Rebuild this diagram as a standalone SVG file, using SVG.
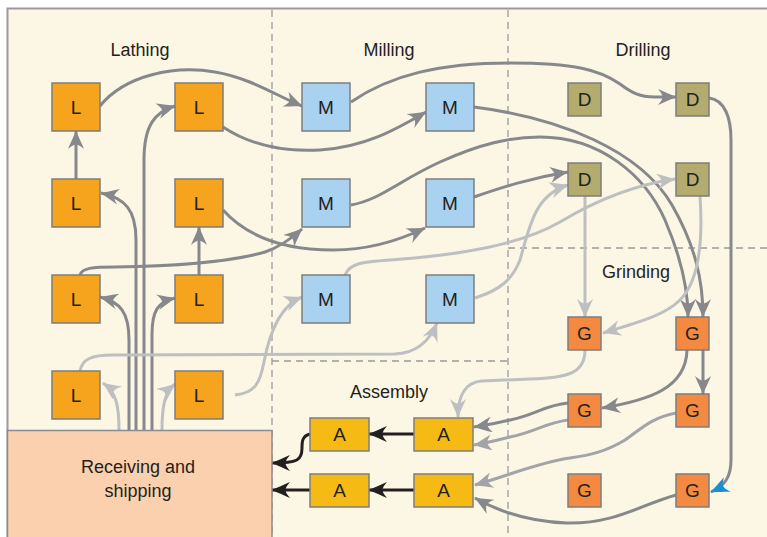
<svg xmlns="http://www.w3.org/2000/svg" width="767" height="537" viewBox="0 0 767 537">
  <style>
    .lbl { font-family: "Liberation Sans", Arial, sans-serif; font-size: 18px; fill: #231F20; text-anchor: middle; }
    .nt { font-family: "Liberation Sans", Arial, sans-serif; font-size: 19px; fill: #231F20; text-anchor: middle; dominant-baseline: central; }
    .node { stroke: #7D7D7D; stroke-width: 1.5; }
    .L { fill: #F6A31E; }
    .M { fill: #A9D1F0; }
    .D { fill: #B4AB6E; }
    .G { fill: #F48A41; }
    .A { fill: #F6BA14; }
    .zone { stroke: #9A9A9A; stroke-width: 1.3; stroke-dasharray: 7 5; fill: none; }
    .dk { fill: none; stroke: #87888B; stroke-width: 3; marker-end: url(#arDk); }
    .md { fill: none; stroke: #A2A4A7; stroke-width: 3; marker-end: url(#arMd); }
    .lt { fill: none; stroke: #BDBFC1; stroke-width: 3; marker-end: url(#arLt); }
    .bk { fill: none; stroke: #231F20; stroke-width: 3; marker-end: url(#arBk); }
    .bl { fill: none; stroke: #87888B; stroke-width: 3; marker-end: url(#arBl); }
  </style>
  <defs>
    <path id="barb" d="M19,8 C13,6 6,2.5 0,0 C3,3.5 4.5,6 4.5,8 C4.5,10 3,12.5 0,16 C6,13.5 13,10 19,8 z"/>
    <marker id="arDk" markerUnits="userSpaceOnUse" markerWidth="20" markerHeight="16" refX="18" refY="8" orient="auto"><use href="#barb" fill="#87888B"/></marker>
    <marker id="arMd" markerUnits="userSpaceOnUse" markerWidth="20" markerHeight="16" refX="18" refY="8" orient="auto"><use href="#barb" fill="#A2A4A7"/></marker>
    <marker id="arLt" markerUnits="userSpaceOnUse" markerWidth="20" markerHeight="16" refX="18" refY="8" orient="auto"><use href="#barb" fill="#BDBFC1"/></marker>
    <marker id="arBk" markerUnits="userSpaceOnUse" markerWidth="20" markerHeight="16" refX="18" refY="8" orient="auto"><use href="#barb" fill="#231F20"/></marker>
    <marker id="arBl" markerUnits="userSpaceOnUse" markerWidth="20" markerHeight="16" refX="18" refY="8" orient="auto"><use href="#barb" fill="#1B8FD2"/></marker>
  </defs>

  <!-- plant floor -->
  <rect x="0" y="0" width="767" height="537" fill="#FFFFFF"/>
  <rect x="7.5" y="8.5" width="770" height="540" fill="#FCF6E5" stroke="#9A9A9A" stroke-width="2"/>

  <!-- department boundaries -->
  <g id="zones">
    <line class="zone" x1="272" y1="10" x2="272" y2="537"/>
    <line class="zone" x1="508" y1="10" x2="508" y2="537"/>
    <line class="zone" x1="508" y1="248" x2="767" y2="248"/>
    <line class="zone" x1="272" y1="361" x2="508" y2="361"/>
  </g>

  <!-- department titles -->
  <g id="titles">
    <text class="lbl" x="140" y="56">Lathing</text>
    <text class="lbl" x="389" y="56">Milling</text>
    <text class="lbl" x="643" y="56">Drilling</text>
    <text class="lbl" x="636" y="278">Grinding</text>
    <text class="lbl" x="389" y="398">Assembly</text>
  </g>

  <!-- material flows -->
  <g id="connectors">
    <!-- lathing -->
    <path class="dk" d="M76,179 V131"/>
    <path class="dk" d="M199,275 V227"/>
    <path class="dk" d="M144,430 V160 C144,125 155,112 175,106"/>
    <path class="dk" d="M136,430 V240 C136,210 125,198 101,193"/>
    <path class="dk" d="M129,430 V340 C129,312 120,302 100,297"/>
    <path class="dk" d="M152,430 V335 C152,310 158,302 175,298"/>
    <path class="lt" d="M119,430 C119,405 116,392 103,383"/>
    <path class="lt" d="M162,430 C162,405 165,392 175,384"/>
    <!-- lathing to milling -->
    <path class="dk" d="M100,106 C125,75 175,65 215,72 C250,78 275,95 302,106"/>
    <path class="dk" d="M223,127 C250,145 285,152 320,150 C365,147 395,130 426,112"/>
    <path class="dk" d="M223,210 C250,240 290,250 333,250 C370,250 400,240 425,228"/>
    <path class="dk" d="M80,275 C82,268 92,267 115,267 C180,266 230,262 265,252 C280,247 292,238 302,229"/>
    <path class="lt" d="M80,371 C82,359 92,355 112,355 L395,354 C418,353 430,340 437,323"/>
    <path class="lt" d="M235,395 C255,393 260,383 264,362 C270,330 282,305 302,297"/>
    <!-- milling onward -->
    <path class="dk" d="M351,102 C390,75 440,63 510,63 C575,63 600,70 620,84 C632,93 640,97 655,97 L676,97"/>
    <path class="dk" d="M474,107 C560,118 640,150 672,205 C695,245 703,280 703,317"/>
    <path class="dk" d="M351,205 C380,200 400,180 440,162 C480,144 510,137 540,137 C600,137 645,175 665,220 C680,255 688,285 688,317"/>
    <path class="dk" d="M474,197 C500,188 530,178 568,172"/>
    <path class="lt" d="M345,275 C350,263 362,262 390,260 C460,255 520,245 560,222 C600,198 640,184 675,179"/>
    <path class="lt" d="M475,298 C500,290 512,280 520,260 C530,225 535,195 568,185"/>
    <!-- drilling to grinding -->
    <path class="bl" d="M709,98 C725,100 731,118 731,140 L731,460 C731,478 724,486 711,492"/>
    <path class="lt" d="M585,196 V317"/>
    <path class="lt" d="M700,196 C703,240 700,280 680,300 C665,315 640,322 603,333"/>
    <!-- grinding -->
    <path class="dk" d="M703,350 V394"/>
    <path class="dk" d="M687,350 C686,388 650,400 602,408"/>
    <!-- grinding to assembly -->
    <path class="lt" d="M585,350 C585,372 570,378 530,379 L482,381 C466,382 458,395 458,417"/>
    <path class="dk" d="M568,403 C545,405 535,415 510,420 C498,423 488,425 474,427"/>
    <path class="md" d="M568,420 C545,423 535,432 510,437 C498,440 488,443 474,445"/>
    <path class="md" d="M676,413 C650,418 640,430 625,440 C605,452 590,455 570,458 C540,462 510,475 475,485"/>
    <path class="dk" d="M676,495 C640,505 615,524 567,523 C530,522 500,512 475,498"/>
    <!-- assembly -->
    <path class="bk" d="M414,434 H369"/>
    <path class="bk" d="M414,490 H369"/>
    <path class="bk" d="M310,434 C302,436 302,442 302,448 C302,460 298,463 272,463"/>
    <path class="bk" d="M310,490 H272"/>
  </g>

  <!-- receiving and shipping dock -->
  <g id="receiving">
    <rect x="7.5" y="430.5" width="264.5" height="110" fill="#FBD0AE" stroke="#8C8C8C" stroke-width="1.5"/>
    <text class="lbl" x="138" y="473">Receiving and</text>
    <text class="lbl" x="138" y="497">shipping</text>
  </g>

  <!-- lathes -->
  <g id="L1"><rect class="node L" x="52" y="83" width="48" height="48"/><text class="nt" x="76" y="107">L</text></g>
  <g id="L2"><rect class="node L" x="175" y="83" width="48" height="48"/><text class="nt" x="199" y="107">L</text></g>
  <g id="L3"><rect class="node L" x="52" y="179" width="48" height="48"/><text class="nt" x="76" y="203">L</text></g>
  <g id="L4"><rect class="node L" x="175" y="179" width="48" height="48"/><text class="nt" x="199" y="203">L</text></g>
  <g id="L5"><rect class="node L" x="52" y="275" width="48" height="48"/><text class="nt" x="76" y="299">L</text></g>
  <g id="L6"><rect class="node L" x="175" y="275" width="48" height="48"/><text class="nt" x="199" y="299">L</text></g>
  <g id="L7"><rect class="node L" x="52" y="371" width="48" height="48"/><text class="nt" x="76" y="395">L</text></g>
  <g id="L8"><rect class="node L" x="175" y="371" width="48" height="48"/><text class="nt" x="199" y="395">L</text></g>

  <!-- mills -->
  <g id="M1"><rect class="node M" x="302" y="83" width="48" height="48"/><text class="nt" x="326" y="107">M</text></g>
  <g id="M2"><rect class="node M" x="426" y="83" width="48" height="48"/><text class="nt" x="450" y="107">M</text></g>
  <g id="M3"><rect class="node M" x="302" y="179" width="48" height="48"/><text class="nt" x="326" y="203">M</text></g>
  <g id="M4"><rect class="node M" x="426" y="179" width="48" height="48"/><text class="nt" x="450" y="203">M</text></g>
  <g id="M5"><rect class="node M" x="302" y="275" width="48" height="48"/><text class="nt" x="326" y="299">M</text></g>
  <g id="M6"><rect class="node M" x="426" y="275" width="48" height="48"/><text class="nt" x="450" y="299">M</text></g>

  <!-- drills -->
  <g id="D1"><rect class="node D" x="568" y="83" width="33" height="33"/><text class="nt" x="584.5" y="99.5">D</text></g>
  <g id="D2"><rect class="node D" x="676" y="83" width="33" height="33"/><text class="nt" x="692.5" y="99.5">D</text></g>
  <g id="D3"><rect class="node D" x="568" y="163" width="33" height="33"/><text class="nt" x="584.5" y="179.5">D</text></g>
  <g id="D4"><rect class="node D" x="676" y="163" width="33" height="33"/><text class="nt" x="692.5" y="179.5">D</text></g>

  <!-- grinders -->
  <g id="G1"><rect class="node G" x="568" y="317" width="33" height="33"/><text class="nt" x="584.5" y="333.5">G</text></g>
  <g id="G2"><rect class="node G" x="676" y="317" width="33" height="33"/><text class="nt" x="692.5" y="333.5">G</text></g>
  <g id="G3"><rect class="node G" x="568" y="394" width="33" height="33"/><text class="nt" x="584.5" y="410.5">G</text></g>
  <g id="G4"><rect class="node G" x="676" y="394" width="33" height="33"/><text class="nt" x="692.5" y="410.5">G</text></g>
  <g id="G5"><rect class="node G" x="568" y="474" width="33" height="33"/><text class="nt" x="584.5" y="490.5">G</text></g>
  <g id="G6"><rect class="node G" x="676" y="474" width="33" height="33"/><text class="nt" x="692.5" y="490.5">G</text></g>

  <!-- assembly stations -->
  <g id="A1"><rect class="node A" x="310" y="418" width="59" height="33"/><text class="nt" x="339.5" y="434.5">A</text></g>
  <g id="A2"><rect class="node A" x="414" y="418" width="59" height="33"/><text class="nt" x="443.5" y="434.5">A</text></g>
  <g id="A3"><rect class="node A" x="310" y="474" width="59" height="33"/><text class="nt" x="339.5" y="490.5">A</text></g>
  <g id="A4"><rect class="node A" x="414" y="474" width="59" height="33"/><text class="nt" x="443.5" y="490.5">A</text></g>
</svg>
